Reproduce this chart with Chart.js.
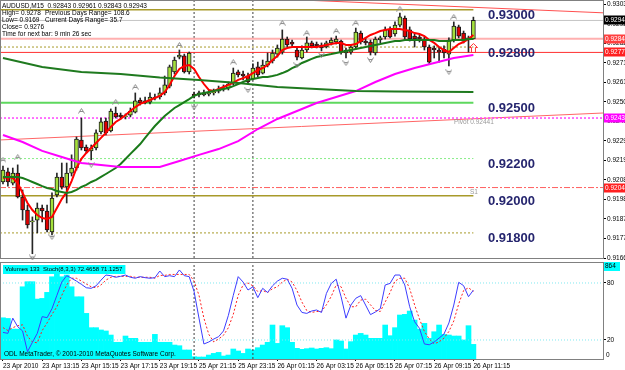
<!DOCTYPE html>
<html>
<head>
<meta charset="utf-8">
<script src="https://cdn.jsdelivr.net/npm/chart.js@4.4.1/dist/chart.umd.min.js"></script>
<style>
html,body{margin:0;padding:0;background:#fff;width:625px;height:370px;overflow:hidden}
#main{position:absolute;left:0;top:0}
#sub{position:absolute;left:0;top:257px}
</style>
</head>
<body>
<canvas id="main" width="625" height="262"></canvas>
<canvas id="sub" width="625" height="113"></canvas>
<script>
// AUDUSD M15, bar index 0 = 23 Apr 11:15
const open=[.92074,.92128,.92068,.92122,.91993,.91923,.91859,.91869,.91934,.91918,
.91805,.92004,.92101,.92047,.92122,.92149,.92300,.92262,.92241,.92257,
.92343,.92402,.92348,.92445,.92434,.92424,.92434,.92450,.92515,.92510,
.92504,.92526,.92531,.92553,.92590,.92666,.92746,.92752,.92666,.92547,
.92553,.92542,.92547,.92553,.92563,.92574,.92580,.92607,.92666,.92655,
.92644,.92628,.92693,.92660,.92703,.92725,.92762,.92773,.92843,.92827,
.92784,.92741,.92784,.92822,.92816,.92811,.92800,.92822,.92827,.92832,
.92768,.92773,.92800,.92875,.92832,.92827,.92768,.92838,.92854,.92897,
.92870,.92918,.92956,.92892,.92859,.92854,.92843,.92800,.92795,.92784,
.92789,.92762,.92838,.92908,.92875,.92838,.92843];
const high=[.92160,.92149,.92149,.92166,.92031,.91950,.91886,.91961,.91950,.91950,
.92015,.92122,.92176,.92176,.92220,.92316,.92418,.92273,.92273,.92354,
.92418,.92418,.92467,.92477,.92445,.92440,.92472,.92553,.92526,.92531,
.92553,.92547,.92580,.92644,.92703,.92746,.92784,.92762,.92773,.92558,
.92563,.92569,.92569,.92574,.92590,.92596,.92612,.92687,.92676,.92671,
.92660,.92709,.92719,.92730,.92768,.92784,.92811,.92892,.92854,.92838,
.92800,.92806,.92854,.92832,.92827,.92822,.92832,.92849,.92859,.92838,
.92795,.92811,.92902,.92886,.92849,.92838,.92854,.92859,.92908,.92908,
.92935,.92983,.92967,.92908,.92870,.92865,.92854,.92811,.92806,.92800,
.92806,.92849,.92935,.92918,.92886,.92859,.92961];
const low=[.92063,.92052,.92058,.91988,.91869,.91826,.91688,.91800,.91859,.91805,
.91789,.91993,.92036,.91961,.92106,.92138,.92246,.92230,.92193,.92246,
.92332,.92327,.92343,.92418,.92413,.92413,.92424,.92445,.92488,.92494,
.92494,.92515,.92520,.92542,.92580,.92655,.92736,.92660,.92655,.92526,
.92531,.92537,.92537,.92542,.92553,.92563,.92569,.92596,.92639,.92623,
.92601,.92623,.92639,.92655,.92693,.92714,.92746,.92762,.92800,.92806,
.92730,.92736,.92773,.92795,.92795,.92779,.92795,.92811,.92816,.92762,
.92741,.92762,.92789,.92816,.92811,.92757,.92757,.92822,.92843,.92849,
.92859,.92908,.92843,.92832,.92800,.92827,.92784,.92709,.92741,.92719,
.92741,.92698,.92827,.92849,.92822,.92773,.92843];
const close=[.92138,.92074,.92122,.91993,.91923,.91843,.91864,.91934,.91918,.91816,
.91988,.92101,.92047,.92122,.92149,.92305,.92257,.92241,.92257,.92338,
.92397,.92338,.92456,.92424,.92424,.92429,.92456,.92510,.92499,.92499,
.92531,.92531,.92553,.92596,.92693,.92730,.92757,.92666,.92768,.92537,
.92542,.92553,.92553,.92558,.92574,.92580,.92601,.92660,.92650,.92644,
.92612,.92687,.92650,.92703,.92725,.92768,.92795,.92843,.92811,.92816,
.92746,.92784,.92822,.92806,.92806,.92795,.92822,.92838,.92843,.92773,
.92784,.92800,.92881,.92827,.92822,.92773,.92843,.92849,.92892,.92854,
.92918,.92962,.92854,.92843,.92843,.92843,.92800,.92719,.92784,.92773,
.92768,.92838,.92913,.92859,.92832,.92849,.92943];

// moving averages
const redMA=[.92095,.92101,.92095,.92068,.92015,.91961,.91923,.91896,.91880,.91875,
.91886,.91934,.91982,.92020,.92079,.92149,.92198,.92230,.92257,.92284,
.92311,.92338,.92370,.92397,.92413,.92434,.92456,.92477,.92494,.92504,
.92515,.92526,.92537,.92558,.92596,.92644,.92682,.92698,.92703,.92682,
.92639,.92601,.92569,.92563,.92574,.92585,.92596,.92607,.92623,.92633,
.92644,.92660,.92676,.92687,.92703,.92730,.92752,.92784,.92795,.92800,
.92800,.92800,.92800,.92800,.92800,.92806,.92811,.92816,.92822,.92822,
.92811,.92811,.92816,.92832,.92849,.92865,.92875,.92886,.92892,.92897,
.92897,.92897,.92892,.92886,.92875,.92870,.92859,.92838,.92822,.92800,
.92784,.92773,.92795,.92816,.92827,.92843,.92865];
const greenMA=[.92101,.92101,.92101,.92101,.92095,.92085,.92074,.92063,.92052,.92042,
.92036,.92025,.92020,.92015,.92020,.92031,.92047,.92058,.92074,.92085,
.92101,.92117,.92133,.92149,.92171,.92198,.92225,.92251,.92278,.92311,
.92343,.92375,.92402,.92429,.92450,.92472,.92488,.92504,.92520,.92537,
.92547,.92553,.92558,.92563,.92569,.92574,.92580,.92590,.92601,.92612,
.92623,.92628,.92633,.92639,.92639,.92644,.92650,.92660,.92671,.92687,
.92698,.92714,.92725,.92736,.92746,.92752,.92757,.92762,.92768,.92773,
.92779,.92784,.92789,.92795,.92800,.92806,.92811,.92816,.92822,.92827,
.92832,.92832,.92838,.92838,.92838,.92838,.92838,.92838,.92838,.92832,
.92832,.92832,.92838,.92838,.92838,.92843,.92843];
const slowIdx=[0,8,16,24,32,40,48,56,64,72,80,88,96];
const slowMA=[.92741,.92693,.92666,.92655,.92636,.92623,.92607,.92585,.92574,.92563,.92561,.92559,.92558];
const magIdx=[0,4,8,12,16,20,24,28,32,36,40,44,48,52,56,60,64,68,72,76,80,84,88,92,96];
const magMA=[.92327,.92289,.92241,.92208,.92176,.92165,.92155,.92155,.92155,.92187,.92220,.92251,.92294,.92359,.92413,.92456,.92499,.92531,.92563,.92612,.92655,.92687,.92714,.92741,.92757];

const fracUp=[[0,.92193],[3,.92208],[16,.92456],[23,.92504],[27,.92585],[36,.92811],[47,.92719],[57,.92929],[62,.92875],[68,.92886],[72,.92929],[81,.93005],[92,.92962]];
const fracDown=[[6,.91668],[10,.91778],[18,.92166],[39,.92477],[50,.92569],[60,.92703],[65,.92757],[70,.92714],[75,.92730],[91,.92666]];
const signalArrow=[[96,.92795]];

const roundLevels=[0.93000,0.92800,0.92500,0.92200,0.92000,0.91800];
const bidLevel=0.92943, pinkLevel=0.92845, redLevel=0.92771, pivotLine=0.92418, dashLevel=0.92044;
const pivotValue=0.92441;
const trendTop=[[61,.93053],[122.45,.92984]];
const trendLow=[[-0.61,.92300],[122.45,.92445]];
const markerValues=[bidLevel,pinkLevel,redLevel,pivotLine,dashLevel];
const markerText=['0.92943','0.92845','0.92771','0.92431','0.92044'];
const priceTicks=[0.93030,0.92925,0.92820,0.92715,0.92610,0.92505,0.92400,0.92295,0.92190,0.92085,0.91980,0.91875,0.91770,0.91665];
const daySep=[39,51];

const volumes=[375,369,272,272,657,703,703,545,551,606,
748,779,748,764,657,566,566,415,285,285,
264,255,218,152,152,209,188,188,152,152,
152,224,152,152,152,127,121,82,82,21,
18,18,36,51,60,27,36,91,73,51,
91,82,103,127,152,309,142,303,285,152,
97,88,94,100,91,97,103,94,173,164,
91,158,218,233,218,188,188,188,309,212,
285,400,406,436,354,272,324,188,248,309,
224,218,209,209,173,303,133];
const volMax=864;
const stochMain=[28,27,43,34,29.5,7.7,17.5,27,44.6,43.5,
53,67,81,87.7,85,82,78.6,75,74.4,77,
83,88.4,87.7,86,87,88.4,86,85,86.7,85.6,
85,85.6,92.6,86.7,87.7,86.7,93.7,87.7,86.7,71,
43,15.8,17.9,21,23.5,29.5,46,67,86.7,81,
72.6,76,64.6,74.4,70,77,82,85,84,74.4,
56.8,49,48,50.5,51.6,49,69,79.6,84,65.6,
43,56.8,63.9,66.7,56.8,46.7,49.5,53,77.9,79.6,
88.4,88.4,77.9,55,39.3,32.3,15.8,15,17.9,22,
26.3,37.9,56.8,80.7,77.2,65.6,72.4658];
const stochSignal=[33,30,33,35,36,24,18,17,30,38,
47,55,67,78,85,85,82,79,76,75,
78,83,86,87,87,87,87,86,86,86,
86,85,88,88,89,89,89,89,89,82,
67,43,26,18,21,25,33,47,67,78,
80,77,71,72,70,74,76,81,84,81,
72,60,51,49,50,50,57,66,78,76,
64,55,55,62,63,57,51,50,60,70,
82,85,85,74,57,42,29,21,16,18,
22,29,40,58,72,75,71.1257];
const stochLevels=[20,80];

const labelIdx=[0,8,16,24,32,40,48,56,64,72,80,88,96];
const timeLabels=['23 Apr 2010','23 Apr 13:15','23 Apr 15:15','23 Apr 17:15','23 Apr 19:15','25 Apr 21:15','25 Apr 23:15','26 Apr 01:15','26 Apr 03:15','26 Apr 05:15','26 Apr 07:15','26 Apr 09:15','26 Apr 11:15'];

const infoLeft=['High= 0.9278','Low= 0.9169','Close= 0.9276','Time for next bar: 9 min 26 sec'];
const infoRight=['Previous Days Range= 108.6','Current Days Range= 35.7'];
const copyright='ODL MetaTrader, \u00a9 2001-2010 MetaQuotes Software Corp.';

const X_MIN=-0.61, X_MAX=122.45, LAST=96;
const FONT='"Liberation Sans", Arial, sans-serif';
Chart.defaults.font.family=FONT;
Chart.defaults.font.size=6.5;
Chart.defaults.color='#000';

function line(pts,color,width,dash,order){
  return {type:'line',data:pts.map(p=>({x:p[0],y:p[1]})),borderColor:color,borderWidth:width,
    borderDash:dash||[],pointRadius:0,tension:0,order:order,fill:false};
}
function chevron(up){
  const c=document.createElement('canvas');c.width=7;c.height=6;
  const g=c.getContext('2d');g.strokeStyle='#8c8c8c';g.lineWidth=1;g.beginPath();
  if(up){g.moveTo(0.5,5.5);g.lineTo(3.5,0.5);g.lineTo(6.5,5.5);g.moveTo(2,3.5);g.lineTo(5,3.5);}
  else{g.moveTo(0.5,0.5);g.lineTo(3.5,5.5);g.lineTo(6.5,0.5);g.moveTo(2,2.5);g.lineTo(5,2.5);}
  g.stroke();return c;
}
function upArrow(){
  const c=document.createElement('canvas');c.width=9;c.height=10;
  const g=c.getContext('2d');g.strokeStyle='#ff3030';g.lineWidth=1;g.beginPath();
  g.moveTo(4.5,0.5);g.lineTo(8.5,4.5);g.lineTo(6.5,4.5);g.lineTo(6.5,9.5);
  g.lineTo(2.5,9.5);g.lineTo(2.5,4.5);g.lineTo(0.5,4.5);g.closePath();g.stroke();return c;
}

const roundStyle=[['#a89a2a',1.5,[]],['#a89a2a',1,[2,2]],['#5ed85e',2,[]],['#88ee88',1,[2,2]],['#a89a2a',1.5,[]],['#a89a2a',1,[2,2]]];

const mainSets=[];
roundLevels.forEach((v,i)=>mainSets.push(line([[X_MIN,v],[LAST,v]],roundStyle[i][0],roundStyle[i][1],roundStyle[i][2],10)));
mainSets.push(line([[X_MIN,bidLevel],[X_MAX,bidLevel]],'#c4c4c4',1,[],10));
mainSets.push(line([[X_MIN,pinkLevel],[X_MAX,pinkLevel]],'#ffb0b0',2,[],10));
mainSets.push(line([[X_MIN,redLevel],[X_MAX,redLevel]],'#ff3030',1,[],10));
mainSets.push(line([[X_MIN,pivotLine],[X_MAX,pivotLine]],'#ff44ff',1.5,[2,2],10));
mainSets.push(line([[X_MIN,dashLevel],[X_MAX,dashLevel]],'#ff6060',1,[6,2,2,2],10));
mainSets.push(line(trendTop,'#ff5050',1,[],10));
mainSets.push(line(trendLow,'#ff6666',1,[],10));
daySep.forEach(d=>mainSets.push(line([[d,0.91665],[d,0.93053]],'#404040',1,[2,2],10)));
mainSets.push(line(slowIdx.map((x,i)=>[x,slowMA[i]]),'#1f7a1f',2,[],1));
mainSets.push(line(magIdx.map((x,i)=>[x,magMA[i]]),'#ff00ff',2,[],1));
mainSets.push(line(greenMA.map((v,i)=>[i,v]),'#1a7a1a',2,[],1));
mainSets.push(line(redMA.map((v,i)=>[i,v]),'#ff0000',2,[],1));
mainSets.push({type:'bar',data:low.map((l,i)=>({x:i,y:[l,high[i]]})),backgroundColor:'#262626',
  barThickness:1,grouped:false,borderWidth:0,order:3});
mainSets.push({type:'bar',data:open.map((o,i)=>({x:i,y:[o,close[i]]})),
  backgroundColor:open.map((o,i)=>close[i]>=o?'#a4e03c':'#e00000'),borderColor:'#1a1a1a',borderWidth:1,
  borderSkipped:false,barThickness:4,grouped:false,minBarLength:1,order:2});
mainSets.push({type:'line',data:fracUp.map(p=>({x:p[0],y:p[1]})),showLine:false,pointStyle:chevron(true),pointRadius:4,order:0,clip:false});
mainSets.push({type:'line',data:fracDown.map(p=>({x:p[0],y:p[1]})),showLine:false,pointStyle:chevron(false),pointRadius:4,order:0,clip:false});
mainSets.push({type:'line',data:signalArrow.map(p=>({x:p[0],y:p[1]})),showLine:false,pointStyle:upArrow(),pointRadius:5,order:0});

const mainDecor={
  id:'mainDecor',
  afterDraw(chart){
    const {ctx,chartArea:a,scales:{y}}=chart;
    ctx.save();
    ctx.strokeStyle='#808080';ctx.lineWidth=1;
    ctx.strokeRect(a.left+0.5,a.top+0.5,a.right-a.left,a.bottom-a.top);
    ctx.textBaseline='middle';ctx.fillStyle='#000';ctx.font='6.5px '+FONT;
    const head='AUDUSD,M15  '+[open[LAST],high[LAST],low[LAST],close[LAST]].map(v=>v.toFixed(5)).join(' ');
    ctx.fillText(head,2,6);
    const ly=[13,20.5,27.5,34.5];
    infoLeft.forEach((t,i)=>ctx.fillText(t,2,ly[i]));
    infoRight.forEach((t,i)=>ctx.fillText(t,45,ly[i]));
    ctx.font='bold 13px '+FONT;ctx.fillStyle='#25256e';
    roundLevels.forEach(v=>ctx.fillText(v.toFixed(5),488,y.getPixelForValue(v)+6));
    ctx.font='6.5px '+FONT;ctx.fillStyle='#9a9a9a';
    ctx.fillText('Pivot '+pivotValue.toFixed(5),454,y.getPixelForValue(pivotLine)+4);
    ctx.fillText('S1',470,y.getPixelForValue(0.92000)-4);
    const colors=['#000000','#ff4040','#ff2020','#ff00ff','#ff2020'];
    markerValues.forEach((v,i)=>{
      const py=Math.round(y.getPixelForValue(v));
      ctx.fillStyle=colors[i];ctx.fillRect(a.right+1,py-4.5,22,9);
      ctx.fillStyle='#fff';ctx.fillText(markerText[i],a.right+2,py);
    });
    ctx.restore();
  }
};

new Chart(document.getElementById('main'),{
  type:'bar',
  data:{datasets:mainSets},
  options:{
    responsive:false,animation:false,devicePixelRatio:1,events:[],
    layout:{autoPadding:false,padding:{left:0,right:0,top:0,bottom:4}},
    plugins:{legend:{display:false},tooltip:{enabled:false}},
    scales:{
      x:{type:'linear',min:X_MIN,max:X_MAX,offset:false,display:false,grid:{offset:false}},
      y:{position:'right',min:0.91665,max:0.93053,
        afterBuildTicks:s=>{s.ticks=priceTicks.map(v=>({value:v}));},
        afterFit:s=>{s.width=22;s.paddingTop=0;s.paddingBottom=0;},
        ticks:{padding:1,color:'#000',font:{size:6.5},callback:v=>Number(v).toFixed(5)},
        grid:{drawOnChartArea:false,tickLength:3,color:'#000'},
        border:{color:'#808080'}}
    }
  },
  plugins:[mainDecor]
});

const subSets=[];
subSets.push({type:'bar',yAxisID:'yv',data:volumes.map((v,i)=>({x:i,y:v})),backgroundColor:'#00ffff',
  barThickness:5,grouped:false,borderWidth:0,order:5});
stochLevels.forEach(v=>subSets.push(Object.assign(line([[X_MIN,v],[X_MAX,v]],'#7fe8f0',1,[1,2],4),{yAxisID:'ys'})));
daySep.forEach(d=>subSets.push(Object.assign(line([[d,0],[d,102.1]],'#404040',1,[2,2],3),{yAxisID:'ys'})));
subSets.push(Object.assign(line(stochSignal.map((v,i)=>[i,v]),'#ff2020',1,[2,2],2),{yAxisID:'ys'}));
subSets.push(Object.assign(line(stochMain.map((v,i)=>[i,v]),'#3c3cff',1,[],1),{yAxisID:'ys'}));

const subDecor={
  id:'subDecor',
  afterDraw(chart){
    const {ctx,chartArea:a,scales:{ys,yv}}=chart;
    ctx.save();
    ctx.strokeStyle='#808080';ctx.lineWidth=1;
    ctx.strokeRect(a.left+0.5,a.top+0.5,a.right-a.left,a.bottom-a.top);
    ctx.font='6px '+FONT;ctx.textBaseline='middle';
    const n=volumes.length-1;
    const lbl='Volumes '+volumes[n]+'  Stoch(8,3,3) '+stochMain[n].toFixed(4)+' '+stochSignal[n].toFixed(4);
    const w=ctx.measureText(lbl).width;
    ctx.fillStyle='#00ffff';ctx.fillRect(3,a.top+3,w+5,9);
    ctx.fillStyle='#000';ctx.fillText(lbl,5,a.top+7.5);
    ctx.font='6.5px '+FONT;
    ctx.fillText(copyright,4,a.bottom-5);
    const vy=yv.getPixelForValue(volMax);
    ctx.fillStyle='#00ffff';ctx.fillRect(a.right+1,vy-2,16,9);
    ctx.fillStyle='#000';ctx.fillText(String(volMax),a.right+2,vy+2.5);
    ctx.fillText('0',a.right+3,ys.getPixelForValue(0)-4);
    ctx.restore();
  }
};

new Chart(document.getElementById('sub'),{
  type:'bar',
  data:{datasets:subSets},
  options:{
    responsive:false,animation:false,devicePixelRatio:1,events:[],
    layout:{autoPadding:false,padding:{left:0,right:0,top:5,bottom:0}},
    plugins:{legend:{display:false},tooltip:{enabled:false}},
    scales:{
      x:{type:'linear',min:X_MIN,max:X_MAX,offset:false,
        afterBuildTicks:s=>{s.ticks=labelIdx.map(v=>({value:v}));},
        afterFit:s=>{s.height=11;s.paddingLeft=0;s.paddingRight=0;},
        ticks:{autoSkip:false,maxRotation:0,minRotation:0,align:'start',padding:1,color:'#000',font:{size:6.5},
          callback:(v,i)=>timeLabels[i]},
        grid:{drawOnChartArea:false,offset:false,tickLength:2,color:'#000'},
        border:{color:'#808080'}},
      ys:{position:'right',min:0,max:102.1,
        afterBuildTicks:s=>{s.ticks=stochLevels.map(v=>({value:v}));},
        afterFit:s=>{s.width=22;s.paddingTop=0;s.paddingBottom=0;},
        ticks:{padding:1,color:'#000',font:{size:6.5}},
        grid:{drawOnChartArea:false,tickLength:3,color:'#000'},
        border:{color:'#808080'}},
      yv:{display:false,min:0,max:882.2}
    }
  },
  plugins:[subDecor]
});
</script>
</body>
</html>
